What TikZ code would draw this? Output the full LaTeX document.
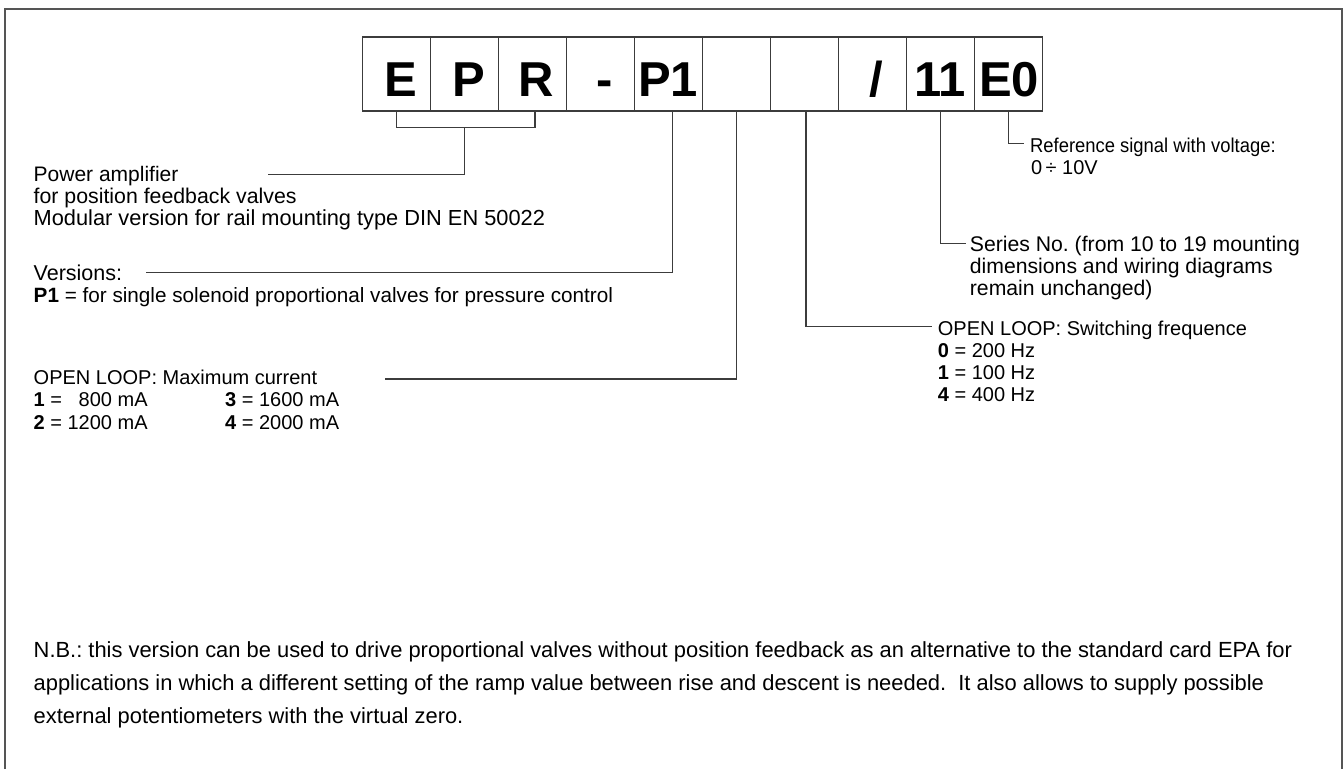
\documentclass[tikz,border=0pt]{standalone}
\usepackage{fontspec}
\setmainfont{Liberation Sans}
\frenchspacing
\definecolor{linegray}{HTML}{3C3C3C}
\definecolor{framegray}{HTML}{555555}
\begin{document}
\begin{tikzpicture}[x=1pt,y=-1pt,
  conn/.style={draw=linegray, line width=1.4pt},
  cell/.style={draw=linegray, line width=1.3pt, minimum width=68pt, minimum height=74pt, inner sep=0pt},
  big/.style={anchor=base, inner sep=0pt, font=\fontsize{49}{49}\selectfont\bfseries},
  lab/.style={anchor=base west, inner sep=0pt, font=\fontsize{#1}{22}\selectfont},
  lab/.default=20,
  nb/.style={anchor=base west, inner sep=0pt, font=\fontsize{21.9}{24}\selectfont}]
\useasboundingbox (0,0) rectangle (1343,769);
\draw[draw=framegray, line width=2pt] (5,769) -- (5,9) -- (1342,9) -- (1342,769);
% code boxes
\foreach \i in {1,...,10} \node[cell] (b\i) at ({396.5+68*(\i-1)},74) {};
\node[big] (t1) at (400.5,96.7) {E};
\node[big] (t2) at (468.5,96.7) {P};
\node[big] (t3) at (536.5,96.7) {R};
\node[big] (t4) at (604.5,96.7) {-};
\node[big] (t5) at (668,96.7) {P1};
\node[big] (t8) at (876,96.7) {/};
\node[big] (t9) at (940,96.7) {11};
\node[big] (t10) at (1009,96.7) {E0};
% connector end points
\coordinate (brk) at (464.5,127.7);
\coordinate (paend) at (268,174.3);
\coordinate (verend) at (145.7,272.3);
\coordinate (maxend) at (385,379);
\coordinate (swend) at (931.6,326.7);
\coordinate (serend) at (966,243.3);
\coordinate (refend) at (1023.8,143.3);
% connectors
\draw[conn] (b1.south) -- (b1.south |- brk) -- ([xshift=2.5pt]b3.south |- brk) -- ([xshift=2.5pt]b3.south);
\draw[conn] (brk) |- (paend);
\draw[conn] ([xshift=4pt]b5.south) |- (verend);
\draw[conn] (b6.south) |- (maxend);
\draw[conn] ([xshift=1.5pt]b7.south) |- (swend);
\draw[conn] (b9.south) |- (serend);
\draw[conn] (b10.south) |- (refend);
% left texts
\node[lab=21] (pa1) at (33.5,181.5) {Power amplifier};
\node[lab=21.3] (pa2) at (33.5,203.5) {for position feedback valves};
\node[lab=21.8] (pa3) at (33.5,225.5) {Modular version for rail mounting type DIN EN 50022};
\node[lab=21.5] (v1) at (33.5,280) {Versions:};
\node[lab=20.7] (v2) at (33.5,302) {\textbf{P1} = for single solenoid proportional valves for pressure control};
\node[lab] (m1) at (33.5,384) {OPEN LOOP: Maximum current};
\node[lab] (m2) at (33.5,406.5) {\textbf{1} = \phantom{1}800 mA};
\node[lab] (m3) at (225,406.5) {\textbf{3} = 1600 mA};
\node[lab] (m4) at (33.5,429) {\textbf{2} = 1200 mA};
\node[lab] (m5) at (225,429) {\textbf{4} = 2000 mA};
% right texts
\node[lab] (r1) at (1030,152) {\scalebox{0.92}[1]{Reference signal with voltage:}};
\node[lab] (r2) at (1031,174) {0\,÷ 10V};
\node[lab=21.2] (s1) at (969.7,251) {Series No. (from 10 to 19 mounting};
\node[lab=21.2] (s2) at (969.7,273) {dimensions and wiring diagrams};
\node[lab=21.2] (s3) at (969.7,295) {remain unchanged)};
\node[lab] (w1) at (937.7,335) {OPEN LOOP: Switching frequence};
\node[lab] (w2) at (937.7,357) {\textbf{0} = 200 Hz};
\node[lab] (w3) at (937.7,379) {\textbf{1} = 100 Hz};
\node[lab] (w4) at (937.7,401) {\textbf{4} = 400 Hz};
% note
\node[nb] (n1) at (33.5,657) {N.B.: this version can be used to drive proportional valves without position feedback as an alternative to the standard card EPA for};
\node[nb] (n2) at (33.5,690) {applications in which a different setting of the ramp value between rise and descent is needed.\ \ It also allows to supply possible};
\node[nb] (n3) at (33.5,723) {external potentiometers with the virtual zero.};
\end{tikzpicture}
\end{document}
